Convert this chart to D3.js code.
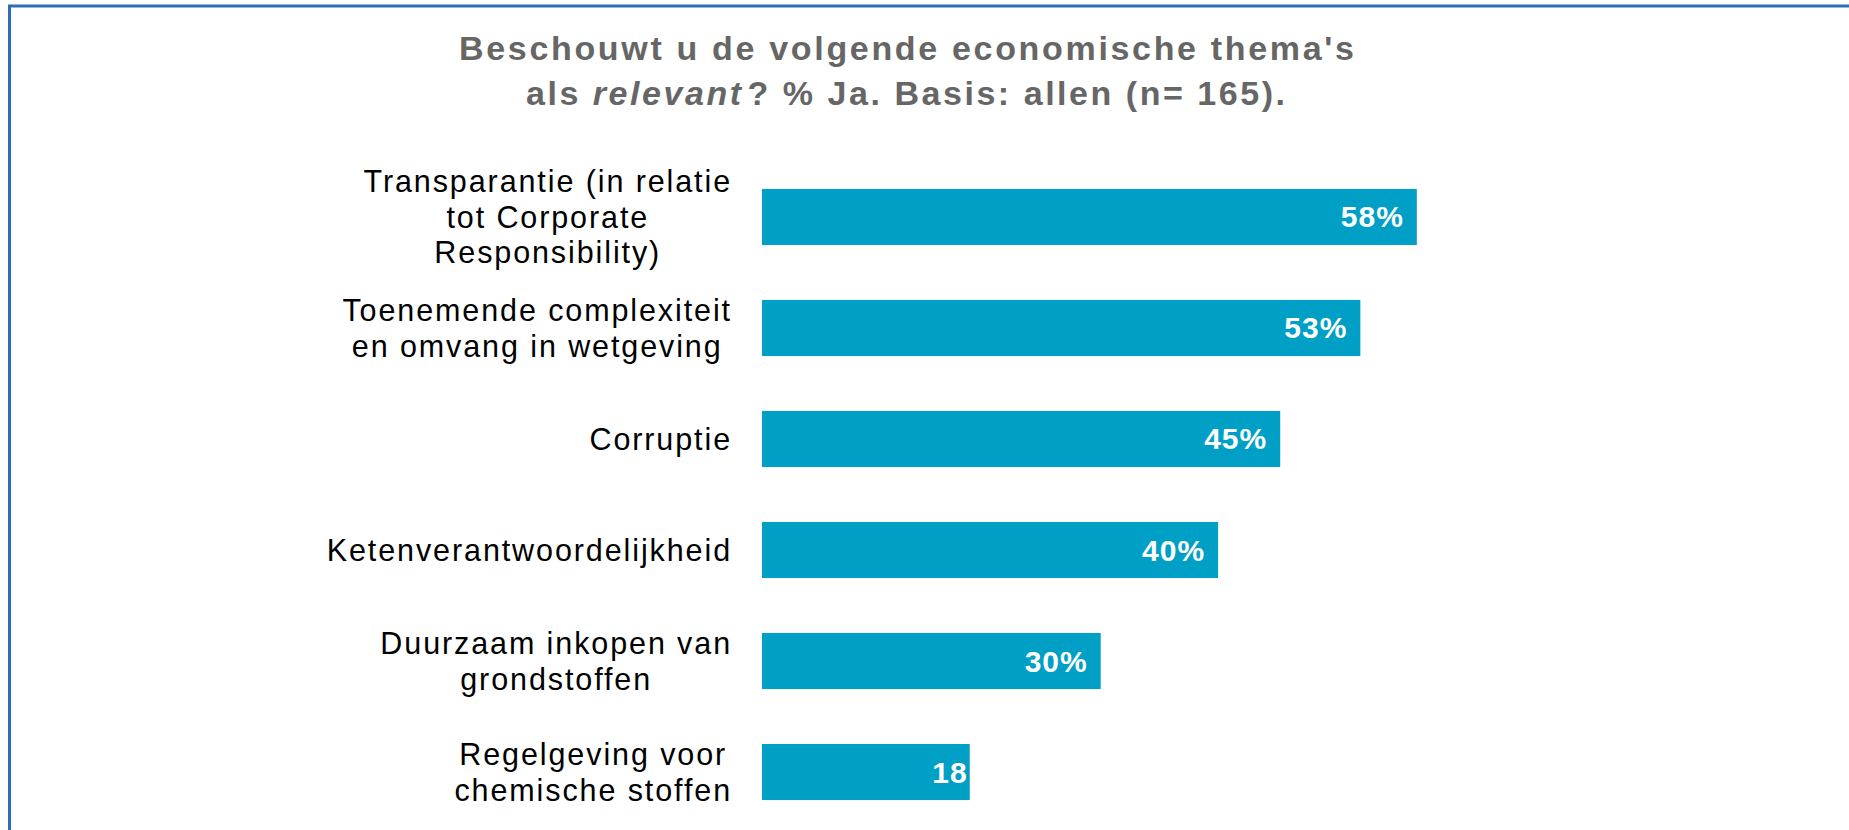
<!DOCTYPE html>
<html>
<head>
<meta charset="utf-8">
<script src="https://cdn.jsdelivr.net/npm/d3@7"></script>
<style>
  html, body { margin: 0; padding: 0; background: #fff; }
  svg { display: block; }
</style>
</head>
<body>
<div id="chart"></div>
<script>
// categories, line breaks marked with |
var categories = [
  "Transparantie (in relatie|tot Corporate|Responsibility)",
  "Toenemende complexiteit|en omvang in wetgeving",
  "Corruptie",
  "Ketenverantwoordelijkheid",
  "Duurzaam inkopen van|grondstoffen",
  "Regelgeving voor|chemische stoffen"
];
var values = [58, 53, 45.9, 40.4, 30, 18.4];
var valueLabels = ["58%", "53%", "45%", "40%", "30%", "18"];
var titleLine1 = "Beschouwt u de volgende economische thema's";
var titleLine2 = ["als ", "relevant", "? % Ja. Basis: allen (n= 165)."];

var width = 1849, height = 830;
var font = "'Liberation Sans', Arial, sans-serif";

var svg = d3.select("#chart").append("svg")
  .attr("width", width).attr("height", height);

//Frame
svg.append("line").attr("x1", 8).attr("x2", width).attr("y1", 6).attr("y2", 6)
  .attr("stroke", "#2e6db4").attr("stroke-width", 3);
svg.append("line").attr("x1", 9.5).attr("x2", 9.5).attr("y1", 5).attr("y2", height)
  .attr("stroke", "#2e6db4").attr("stroke-width", 3);

//Title
var title = svg.append("g")
  .attr("font-family", font).attr("font-weight", "bold")
  .attr("font-size", 34).attr("fill", "#666666");
title.append("text").attr("x", 459).attr("y", 60)
  .attr("textLength", 895).attr("lengthAdjust", "spacing")
  .text(titleLine1);
var t2 = title.append("text").attr("x", 526).attr("y", 105)
  .attr("textLength", 759).attr("lengthAdjust", "spacing");
t2.append("tspan").text(titleLine2[0]);
t2.append("tspan").attr("font-style", "italic").text(titleLine2[1]);
t2.append("tspan").attr("dx", 4).text(titleLine2[2]);

//Scales
var x = d3.scaleLinear().domain([0, 100]).range([762, 762 + 1129]);
var y = d3.scaleBand().domain(categories).range([134, 855]).padding(0.495);

//Bars
svg.selectAll("rect.bar")
  .data(values)
  .enter().append("rect")
  .attr("class", "bar")
  .attr("x", x(0))
  .attr("y", function (d, i) { return y(categories[i]); })
  .attr("width", function (d) { return x(d) - x(0); })
  .attr("height", y.bandwidth())
  .attr("fill", "#00a0c6");

//Value labels
svg.selectAll("text.val")
  .data(values)
  .enter().append("text")
  .attr("class", "val")
  .attr("x", function (d, i) { return i === 5 ? x(d) - 2 : x(d) - 13; })
  .attr("y", function (d, i) { return y(categories[i]) + y.bandwidth() / 2 + 10.5; })
  .attr("text-anchor", "end")
  .attr("font-family", font).attr("font-weight", "bold").attr("font-size", 30)
  .attr("letter-spacing", 1)
  .attr("fill", "#fff")
  .text(function (d, i) { return valueLabels[i]; });

//Category labels: block centred, widest line ends at 732
var lineH = 35.5;
categories.forEach(function (c) {
  var lines = c.split("|");
  var g = svg.append("g");
  var cy = y(c) + y.bandwidth() / 2;
  var texts = lines.map(function (l, j) {
    return g.append("text")
      .attr("y", cy + (j - (lines.length - 1) / 2) * lineH + 11)
      .attr("font-family", font).attr("font-size", 30.5)
      .attr("letter-spacing", 1.9)
      .attr("fill", "#000").attr("text-anchor", "middle")
      .text(l);
  });
  var maxW = d3.max(texts, function (t) { return t.node().getComputedTextLength(); });
  texts.forEach(function (t) { t.attr("x", 732 - maxW / 2); });
});
</script>
</body>
</html>
